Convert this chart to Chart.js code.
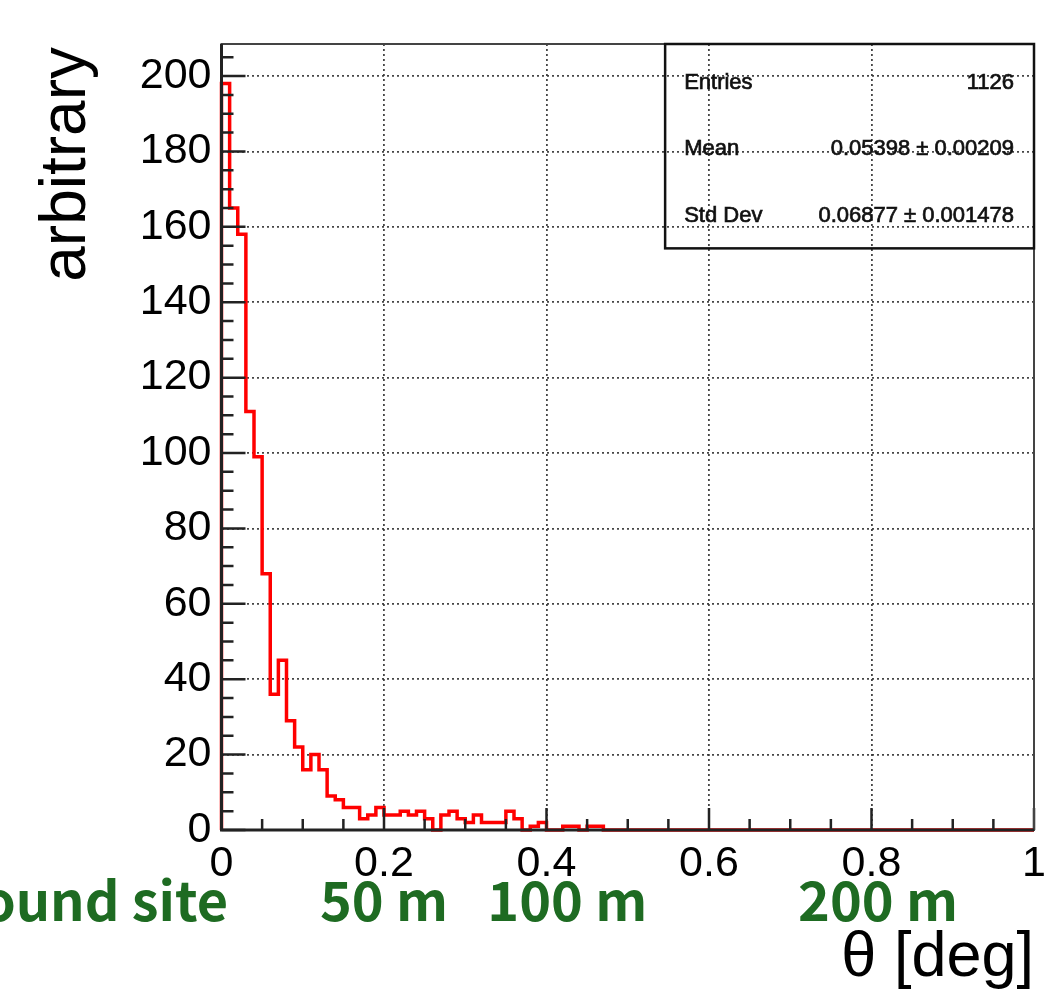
<!DOCTYPE html>
<html>
<head>
<meta charset="utf-8">
<script src="https://cdn.jsdelivr.net/npm/chart.js@4"></script>
<style>
html, body { margin: 0; padding: 0; background: #fff; }
#chart { display: block; }
</style>
</head>
<body>
<canvas id="chart" width="1046" height="991"></canvas>
<script>
// histogram: 100 bins of 0.01 deg from 0 to 1
var binWidth = 0.01;
var binValues = [
    198, 165, 158, 111, 99, 68, 36, 45, 29, 22,
    16, 20, 16, 9, 8, 6, 6, 3, 4, 6,
    4, 4, 5, 4, 5, 3, 0, 4, 5, 3,
    2, 4, 2, 2, 2, 5, 3, 0, 1, 2,
    0, 0, 1, 1, 0, 1, 1, 0, 0, 0,
    0, 0, 0, 0, 0, 0, 0, 0, 0, 0,
    0, 0, 0, 0, 0, 0, 0, 0, 0, 0,
    0, 0, 0, 0, 0, 0, 0, 0, 0, 0,
    0, 0, 0, 0, 0, 0, 0, 0, 0, 0,
    0, 0, 0, 0, 0, 0, 0, 0, 0, 0
];
var statNames = ["Entries", "Mean", "Std Dev"];
var statValues = ["1126", "0.05398 \u00b1 0.00209", "0.06877 \u00b1 0.001478"];
var siteLabels = ["ound site", "50 m", "100 m", "200 m"];
var siteAt = [0.008, 0.2, 0.4256, 0.808];
var xTitle = "\u03b8 [deg]";
var yTitle = "arbitrary";

// outline points: left edge of every bin, closed down to zero at both ends
var points = [{ x: 0, y: 0 }];
binValues.forEach(function (v, i) {
    points.push({ x: i * binWidth, y: v });
});
points.push({ x: binValues.length * binWidth, y: 0 });

var tickFont = { family: "'Liberation Sans', Arial, sans-serif", size: 43 };

// frame, inward ticks, stats box and the extra labels (ROOT style)
var rootDeco = {
    id: "rootDeco",
    afterDatasetsDraw: function (chart) {
        var ctx = chart.ctx;
        var a = chart.chartArea;
        var xs = chart.scales.x;
        var ys = chart.scales.y;
        ctx.save();
        // ticks
        ctx.strokeStyle = "#222";
        ctx.lineWidth = 2.5;
        ctx.beginPath();
        for (var v = 0; v <= 205; v += 5) {
            var py = ys.getPixelForValue(v);
            var len = (v % 20 === 0) ? 24 : 12;
            ctx.moveTo(a.left, py);
            ctx.lineTo(a.left + len, py);
        }
        for (var k = 0; k <= 20; k++) {
            var px = xs.getPixelForValue(k * 0.05);
            var l2 = (k % 4 === 0) ? 22 : 11;
            ctx.moveTo(px, a.bottom);
            ctx.lineTo(px, a.bottom - l2);
        }
        ctx.stroke();
        // frame
        ctx.lineWidth = 2;
        ctx.strokeStyle = "#444";
        ctx.strokeRect(a.left, a.top, a.right - a.left, a.bottom - a.top);
        ctx.lineWidth = 3;
        ctx.strokeStyle = "#222";
        ctx.beginPath();
        ctx.moveTo(a.left, a.top);
        ctx.lineTo(a.left, a.bottom);
        ctx.lineTo(a.right, a.bottom);
        ctx.stroke();
        // stats box
        var w = a.right - a.left, h = a.bottom - a.top;
        var bx = a.left + 0.546 * w, by = a.top, bw = a.right - bx, bh = 0.26 * h;
        ctx.lineWidth = 2.5;
        ctx.strokeStyle = "#111";
        ctx.strokeRect(bx, by, bw, bh);
        ctx.fillStyle = "#111";
        ctx.strokeStyle = "#111";
        ctx.lineWidth = 0.7;
        ctx.font = "22px 'Liberation Sans', Arial, sans-serif";
        ctx.textBaseline = "middle";
        statNames.forEach(function (n, i) {
            var ty = by + bh * (0.19 + i * 0.325);
            ctx.textAlign = "left";
            ctx.fillText(n, bx + 19, ty);
            ctx.strokeText(n, bx + 19, ty);
            ctx.textAlign = "right";
            ctx.fillText(statValues[i], a.right - 20, ty);
            ctx.strokeText(statValues[i], a.right - 20, ty);
        });
        ctx.restore();
    },
    afterDraw: function (chart) {
        var ctx = chart.ctx;
        var a = chart.chartArea;
        var xs = chart.scales.x;
        ctx.save();
        ctx.fillStyle = "#000";
        ctx.textBaseline = "alphabetic";
        // x title
        ctx.font = "63px 'Liberation Sans', Arial, sans-serif";
        ctx.textAlign = "right";
        ctx.fillText(xTitle, a.right, 976);
        // y title, rotated, aligned to the top
        ctx.save();
        ctx.font = "64px 'Liberation Sans', Arial, sans-serif";
        ctx.translate(85, a.top + 3);
        ctx.rotate(-Math.PI / 2);
        ctx.textAlign = "right";
        ctx.fillText(yTitle, 0, 0);
        ctx.restore();
        // green site labels
        ctx.fillStyle = "#1e6b22";
        ctx.font = "bold 54px 'Noto Sans CJK JP', sans-serif";
        siteLabels.forEach(function (t, i) {
            ctx.textAlign = (i === 0) ? "right" : "center";
            ctx.fillText(t, xs.getPixelForValue(siteAt[i]), 921);
        });
        ctx.restore();
    }
};

var chart = new Chart("chart", {
    type: "line",
    data: {
        datasets: [{
            data: points,
            stepped: true,
            borderColor: "#ff0000",
            borderWidth: 3.5,
            pointRadius: 0,
            fill: false,
            clip: 4
        }]
    },
    options: {
        responsive: false,
        animation: false,
        devicePixelRatio: 1,
        layout: { padding: { top: 44, right: 12, left: 0, bottom: 0 } },
        plugins: { legend: { display: false }, tooltip: { enabled: false } },
        scales: {
            x: {
                type: "linear",
                min: 0,
                max: 1,
                ticks: {
                    stepSize: 0.2, font: tickFont, color: "#000", padding: 8, maxRotation: 0,
                    callback: function (v) { return String(Math.round(v * 10) / 10); }
                },
                grid: { color: "rgba(50,50,50,0.9)", lineWidth: 1.8, drawTicks: false },
                border: { display: false, dash: [2, 3] },
                afterFit: function (s) { s.height = 161; s.paddingLeft = 0; s.paddingRight = 0; }
            },
            y: {
                min: 0,
                max: 208.5,
                ticks: { stepSize: 20, includeBounds: false, font: tickFont, color: "#000", padding: 10 },
                grid: { color: "rgba(50,50,50,0.9)", lineWidth: 1.8, drawTicks: false },
                border: { display: false, dash: [2, 3] },
                afterFit: function (s) { s.width = 221.5; }
            }
        }
    },
    plugins: [rootDeco]
});
</script>
</body>
</html>
